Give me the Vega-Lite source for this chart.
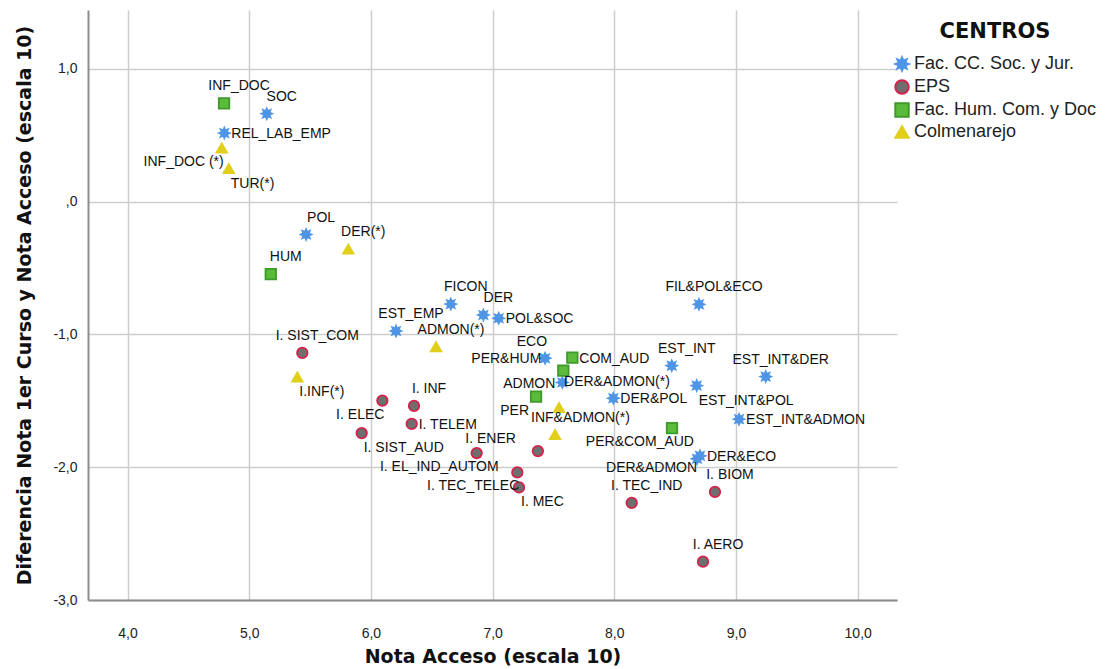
{
  "$schema": "https://vega.github.io/schema/vega-lite/v6.json",
  "width": 809,
  "height": 590,
  "autosize": {"type": "none"},
  "padding": {"left": 88, "top": 10, "right": 210, "bottom": 69},
  "background": "white",
  "config": {"view": {"stroke": null}, "font": "Liberation Sans"},
  "data": {
    "values": [
      {"c": "Fac. CC. Soc. y Jur.", "n": "SOC", "acc": 5.144, "dif": 0.663, "pos": "t"},
      {"c": "Fac. CC. Soc. y Jur.", "n": "REL_LAB_EMP", "acc": 4.795, "dif": 0.517, "pos": "r"},
      {"c": "Fac. CC. Soc. y Jur.", "n": "POL", "acc": 5.467, "dif": -0.247, "pos": "t"},
      {"c": "Fac. CC. Soc. y Jur.", "n": "FICON", "acc": 6.656, "dif": -0.771, "pos": "t"},
      {"c": "Fac. CC. Soc. y Jur.", "n": "DER", "acc": 6.924, "dif": -0.853, "pos": "t"},
      {"c": "Fac. CC. Soc. y Jur.", "n": "POL&SOC", "acc": 7.05, "dif": -0.878, "pos": "r"},
      {"c": "Fac. CC. Soc. y Jur.", "n": "EST_EMP", "acc": 6.206, "dif": -0.974, "pos": "t"},
      {"c": "Fac. CC. Soc. y Jur.", "n": "ECO", "acc": 7.431, "dif": -1.179, "pos": "tl"},
      {"c": "Fac. CC. Soc. y Jur.", "n": "ADMON", "acc": 7.573, "dif": -1.362, "pos": "l"},
      {"c": "Fac. CC. Soc. y Jur.", "n": "DER&POL", "acc": 7.992, "dif": -1.48, "pos": "r"},
      {"c": "Fac. CC. Soc. y Jur.", "n": "EST_INT", "acc": 8.472, "dif": -1.235, "pos": "t"},
      {"c": "Fac. CC. Soc. y Jur.", "n": "EST_INT&POL", "acc": 8.677, "dif": -1.385, "pos": "br"},
      {"c": "Fac. CC. Soc. y Jur.", "n": "EST_INT&DER", "acc": 9.244, "dif": -1.317, "pos": "t"},
      {"c": "Fac. CC. Soc. y Jur.", "n": "EST_INT&ADMON", "acc": 9.025, "dif": -1.638, "pos": "r"},
      {"c": "Fac. CC. Soc. y Jur.", "n": "FIL&POL&ECO", "acc": 8.696, "dif": -0.773, "pos": "t"},
      {"c": "Fac. CC. Soc. y Jur.", "n": "DER&ECO", "acc": 8.704, "dif": -1.914, "pos": "r"},
      {"c": "Fac. CC. Soc. y Jur.", "n": "DER&ADMON", "acc": 8.68, "dif": -1.936, "pos": "bls"},
      {"c": "Fac. Hum. Com. y Doc", "n": "INF_DOC", "acc": 4.793, "dif": 0.741, "pos": "t"},
      {"c": "Fac. Hum. Com. y Doc", "n": "HUM", "acc": 5.177, "dif": -0.545, "pos": "t"},
      {"c": "Fac. Hum. Com. y Doc", "n": "COM_AUD", "acc": 7.655, "dif": -1.174, "pos": "r"},
      {"c": "Fac. Hum. Com. y Doc", "n": "PER&HUM", "acc": 7.581, "dif": -1.272, "pos": "tlf"},
      {"c": "Fac. Hum. Com. y Doc", "n": "PER", "acc": 7.357, "dif": -1.468, "pos": "bll"},
      {"c": "Fac. Hum. Com. y Doc", "n": "PER&COM_AUD", "acc": 8.474, "dif": -1.705, "pos": "blr"},
      {"c": "Colmenarejo", "n": "INF_DOC (*)", "acc": 4.774, "dif": 0.405, "pos": "bl"},
      {"c": "Colmenarejo", "n": "TUR(*)", "acc": 4.832, "dif": 0.25, "pos": "br"},
      {"c": "Colmenarejo", "n": "DER(*)", "acc": 5.814, "dif": -0.357, "pos": "t"},
      {"c": "Colmenarejo", "n": "ADMON(*)", "acc": 6.535, "dif": -1.092, "pos": "t"},
      {"c": "Colmenarejo", "n": "I.INF(*)", "acc": 5.395, "dif": -1.32, "pos": "br"},
      {"c": "Colmenarejo", "n": "DER&ADMON(*)", "acc": 7.546, "dif": -1.55, "pos": "tr"},
      {"c": "Colmenarejo", "n": "INF&ADMON(*)", "acc": 7.513, "dif": -1.753, "pos": "trr"},
      {"c": "EPS", "n": "I. SIST_COM", "acc": 5.436, "dif": -1.139, "pos": "t"},
      {"c": "EPS", "n": "I. ELEC", "acc": 6.094, "dif": -1.498, "pos": "bl"},
      {"c": "EPS", "n": "I. INF", "acc": 6.354, "dif": -1.538, "pos": "t"},
      {"c": "EPS", "n": "I. TELEM", "acc": 6.335, "dif": -1.673, "pos": "r"},
      {"c": "EPS", "n": "I. SIST_AUD", "acc": 5.924, "dif": -1.743, "pos": "br"},
      {"c": "EPS", "n": "I. EL_IND_AUTOM", "acc": 6.869, "dif": -1.893, "pos": "blr"},
      {"c": "EPS", "n": "I. ENER", "acc": 7.372, "dif": -1.878, "pos": "tlf"},
      {"c": "EPS", "n": "I. TEC_TELEC", "acc": 7.203, "dif": -2.039, "pos": "bl"},
      {"c": "EPS", "n": "I. MEC", "acc": 7.217, "dif": -2.152, "pos": "br"},
      {"c": "EPS", "n": "I. TEC_IND", "acc": 8.143, "dif": -2.269, "pos": "t"},
      {"c": "EPS", "n": "I. BIOM", "acc": 8.827, "dif": -2.186, "pos": "t"},
      {"c": "EPS", "n": "I. AERO", "acc": 8.729, "dif": -2.711, "pos": "t"}
    ]
  },
  "encoding": {
    "x": {
      "field": "acc", "type": "quantitative",
      "scale": {"domain": [3.675, 10.323], "nice": false, "zero": false},
      "axis": {
        "title": "Nota Acceso (escala 10)",
        "titleFont": "DejaVu Sans", "titleFontSize": 19, "titleFontWeight": "bold", "titleColor": "#111",
        "titlePadding": 7,
        "values": [4, 5, 6, 7, 8, 9, 10],
        "labelExpr": "replace(format(datum.value, '.1f'), '.', ',')",
        "labelFont": "Liberation Sans", "labelFontSize": 14, "labelColor": "#222", "labelPadding": 26,
        "ticks": false,
        "domainColor": "#8c8c8c", "domainWidth": 2,
        "grid": true, "gridColor": "#cdcdcd", "gridWidth": 1.5
      }
    },
    "y": {
      "field": "dif", "type": "quantitative",
      "scale": {"domain": [-3, 1.444], "nice": false, "zero": false},
      "axis": {
        "title": "Diferencia Nota 1er Curso y Nota Acceso (escala 10)",
        "titleFont": "DejaVu Sans", "titleFontSize": 19, "titleFontWeight": "bold", "titleColor": "#111",
        "titlePadding": 18,
        "values": [-3, -2, -1, 0, 1],
        "labelExpr": "datum.value == 0 ? ',0' : replace(replace(format(datum.value, '.1f'), '.', ','), '\u2212', '-')",
        "labelFont": "Liberation Sans", "labelFontSize": 14, "labelColor": "#222", "labelPadding": 11,
        "ticks": false,
        "domainColor": "#8c8c8c", "domainWidth": 2,
        "grid": true, "gridColor": "#cdcdcd", "gridWidth": 1.5
      }
    }
  },
  "layer": [
    {
      "mark": {"type": "point", "filled": true, "size": 110, "strokeWidth": 1.8, "opacity": 1},
      "encoding": {
        "shape": {
          "field": "c", "type": "nominal",
          "scale": {
            "domain": ["Fac. CC. Soc. y Jur.", "EPS", "Fac. Hum. Com. y Doc", "Colmenarejo"],
            "range": ["M1,0L0.508,0.21L0.707,0.707L0.21,0.508L0,1L-0.21,0.508L-0.707,0.707L-0.508,0.21L-1,0L-0.508,-0.21L-0.707,-0.707L-0.21,-0.508L0,-1L0.21,-0.508L0.707,-0.707L0.508,-0.21Z", "circle", "square", "triangle-up"]
          },
          "legend": {
            "orient": "none", "legendX": 805, "legendY": 11,
            "title": "CENTROS", "titleFont": "DejaVu Sans", "titleFontSize": 21, "titleFontWeight": "bold",
            "titleColor": "#111", "titleAnchor": "middle", "titlePadding": 13,
            "labelFont": "Liberation Sans", "labelFontSize": 18, "labelColor": "#222", "labelLimit": 0,
            "symbolSize": 180, "symbolStrokeWidth": 2, "rowPadding": 1, "labelOffset": 3
          }
        },
        "fill": {
          "field": "c", "type": "nominal",
          "scale": {
            "domain": ["Fac. CC. Soc. y Jur.", "EPS", "Fac. Hum. Com. y Doc", "Colmenarejo"],
            "range": ["#4f95e6", "#6f6f6f", "#5bbb3a", "#e2cf1b"]
          },
          "legend": {
            "orient": "none", "legendX": 805, "legendY": 11,
            "title": "CENTROS", "titleFont": "DejaVu Sans", "titleFontSize": 21, "titleFontWeight": "bold",
            "titleColor": "#111", "titleAnchor": "middle", "titlePadding": 13,
            "labelFont": "Liberation Sans", "labelFontSize": 18, "labelColor": "#222", "labelLimit": 0,
            "symbolSize": 180, "symbolStrokeWidth": 2, "rowPadding": 1, "labelOffset": 3
          }
        },
        "stroke": {
          "field": "c", "type": "nominal",
          "scale": {
            "domain": ["Fac. CC. Soc. y Jur.", "EPS", "Fac. Hum. Com. y Doc", "Colmenarejo"],
            "range": ["#4f95e6", "#d4234b", "#3f9a2c", "#e2cf1b"]
          },
          "legend": {
            "orient": "none", "legendX": 805, "legendY": 11,
            "title": "CENTROS", "titleFont": "DejaVu Sans", "titleFontSize": 21, "titleFontWeight": "bold",
            "titleColor": "#111", "titleAnchor": "middle", "titlePadding": 13,
            "labelFont": "Liberation Sans", "labelFontSize": 18, "labelColor": "#222", "labelLimit": 0,
            "symbolSize": 180, "symbolStrokeWidth": 2, "rowPadding": 1, "labelOffset": 3
          }
        }
      }
    },
    {
      "transform": [{"filter": "datum.pos == 't'"}],
      "mark": {"type": "text", "align": "center", "baseline": "middle", "dx": 15, "dy": -17, "fontSize": 14, "font": "Liberation Sans", "color": "#111"},
      "encoding": {"text": {"field": "n"}}
    },
    {
      "transform": [{"filter": "datum.pos == 'r'"}],
      "mark": {"type": "text", "align": "left", "baseline": "middle", "dx": 7, "dy": 1, "fontSize": 14, "font": "Liberation Sans", "color": "#111"},
      "encoding": {"text": {"field": "n"}}
    },
    {
      "transform": [{"filter": "datum.pos == 'l'"}],
      "mark": {"type": "text", "align": "right", "baseline": "middle", "dx": -7, "dy": 1, "fontSize": 14, "font": "Liberation Sans", "color": "#111"},
      "encoding": {"text": {"field": "n"}}
    },
    {
      "transform": [{"filter": "datum.pos == 'bl'"}],
      "mark": {"type": "text", "align": "right", "baseline": "middle", "dx": 2, "dy": 14, "fontSize": 14, "font": "Liberation Sans", "color": "#111"},
      "encoding": {"text": {"field": "n"}}
    },
    {
      "transform": [{"filter": "datum.pos == 'bls'"}],
      "mark": {"type": "text", "align": "right", "baseline": "middle", "dx": 0, "dy": 9, "fontSize": 14, "font": "Liberation Sans", "color": "#111"},
      "encoding": {"text": {"field": "n"}}
    },
    {
      "transform": [{"filter": "datum.pos == 'bll'"}],
      "mark": {"type": "text", "align": "right", "baseline": "middle", "dx": -7, "dy": 14, "fontSize": 14, "font": "Liberation Sans", "color": "#111"},
      "encoding": {"text": {"field": "n"}}
    },
    {
      "transform": [{"filter": "datum.pos == 'blr'"}],
      "mark": {"type": "text", "align": "right", "baseline": "middle", "dx": 22, "dy": 14, "fontSize": 14, "font": "Liberation Sans", "color": "#111"},
      "encoding": {"text": {"field": "n"}}
    },
    {
      "transform": [{"filter": "datum.pos == 'br'"}],
      "mark": {"type": "text", "align": "left", "baseline": "middle", "dx": 2, "dy": 15, "fontSize": 14, "font": "Liberation Sans", "color": "#111"},
      "encoding": {"text": {"field": "n"}}
    },
    {
      "transform": [{"filter": "datum.pos == 'tl'"}],
      "mark": {"type": "text", "align": "right", "baseline": "middle", "dx": 2, "dy": -16, "fontSize": 14, "font": "Liberation Sans", "color": "#111"},
      "encoding": {"text": {"field": "n"}}
    },
    {
      "transform": [{"filter": "datum.pos == 'tlf'"}],
      "mark": {"type": "text", "align": "right", "baseline": "middle", "dx": -22, "dy": -12, "fontSize": 14, "font": "Liberation Sans", "color": "#111"},
      "encoding": {"text": {"field": "n"}}
    },
    {
      "transform": [{"filter": "datum.pos == 'tr'"}],
      "mark": {"type": "text", "align": "left", "baseline": "middle", "dx": 5, "dy": -25, "fontSize": 14, "font": "Liberation Sans", "color": "#111"},
      "encoding": {"text": {"field": "n"}}
    },
    {
      "transform": [{"filter": "datum.pos == 'trr'"}],
      "mark": {"type": "text", "align": "left", "baseline": "middle", "dx": -24, "dy": -16, "fontSize": 14, "font": "Liberation Sans", "color": "#111"},
      "encoding": {"text": {"field": "n"}}
    }
  ]
}
